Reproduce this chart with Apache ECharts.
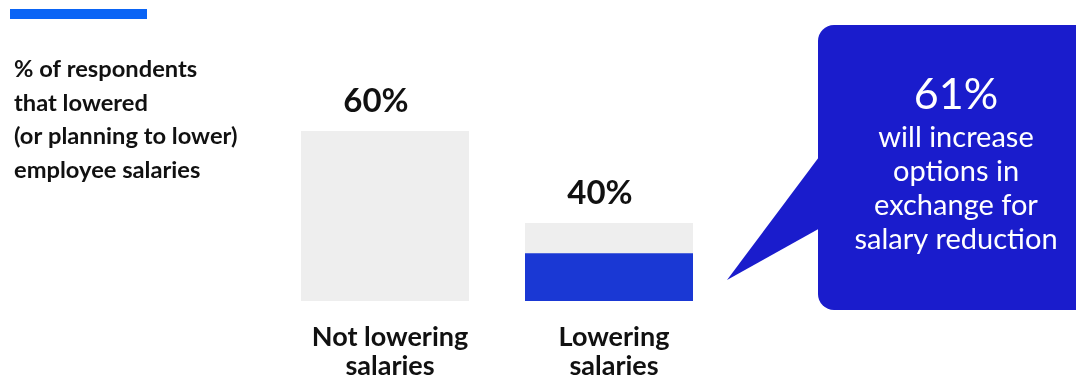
<!DOCTYPE html>
<html>
<head>
<meta charset="utf-8">
<script src="https://cdn.jsdelivr.net/npm/echarts@6/dist/echarts.min.js"></script>
<style>html,body{margin:0;padding:0;background:#fff}#c{width:1076px;height:378px}</style>
</head>
<body>
<div id="c"></div>
<script>
const categories = ['Not lowering\nsalaries', 'Lowering\nsalaries'];
const percentValues = [60, 40];
const optionsShare = 61; // % of "Lowering" respondents who will increase options
const titleLines = ['% of respondents', 'that lowered', '(or planning to lower)', 'employee salaries'];
const calloutLines = ['will increase', 'options in', 'exchange for', 'salary reduction'];

const axisMin = 23;
const blueValues = percentValues.map((v, i) => i === 1 ? axisMin + (v - axisMin) * optionsShare / 100 : '-');

const chart = echarts.init(document.getElementById('c'));
chart.setOption({
  animation: false,
  textStyle: { fontFamily: 'Lato' },
  title: {
    text: titleLines.join('\n'),
    left: 9, top: 48,
    textStyle: { fontFamily: 'Lato', fontSize: 23.7, fontWeight: 'bold', color: '#111', lineHeight: 33.5 }
  },
  grid: { left: 273, width: 448, top: 131, bottom: 77, outerBoundsMode: 'none', containLabel: false },
  xAxis: {
    type: 'category', data: categories,
    axisLine: { show: false }, axisTick: { show: false },
    axisLabel: { fontFamily: 'Lato', fontSize: 27, fontWeight: 'bold', color: '#111', lineHeight: 29, margin: 22, padding: [0, 0, 0, 10], interval: 0 }
  },
  yAxis: { type: 'value', min: axisMin, max: 60, show: false, splitLine: { show: false } },
  series: [
    {
      type: 'bar', data: percentValues, barWidth: 168, barGap: '-100%',
      itemStyle: { color: '#eeeeee' },
      label: { show: true, position: 'top', distance: 13, offset: [-9, 0], formatter: '{c}%',
        fontFamily: 'Lato', fontSize: 33, fontWeight: 'bold', color: '#111' }
    },
    {
      type: 'bar', data: blueValues, barWidth: 168, barGap: '-100%',
      itemStyle: { color: '#1a38d4' }, z: 3
    }
  ],
  graphic: [
    { type: 'rect', left: 10, top: 9, shape: { width: 137, height: 10 }, style: { fill: '#0a64f5' } },
    { type: 'polygon', shape: { points: [[822, 153], [822, 227], [727, 280]] }, style: { fill: '#1a1ccc' } },
    { type: 'rect', shape: { x: 818, y: 25, width: 290, height: 285, r: 16 }, style: { fill: '#1a1ccc' } },
    { type: 'text', x: 956, y: 95, style: { text: optionsShare + '%', fill: '#fff', font: '43px Lato', align: 'center', verticalAlign: 'middle' } },
    { type: 'text', x: 956, y: 121, style: { text: calloutLines.join('\n'), fill: '#fff', font: '29px Lato', lineHeight: 34, align: 'center', verticalAlign: 'top' } }
  ]
});
</script>
</body>
</html>
